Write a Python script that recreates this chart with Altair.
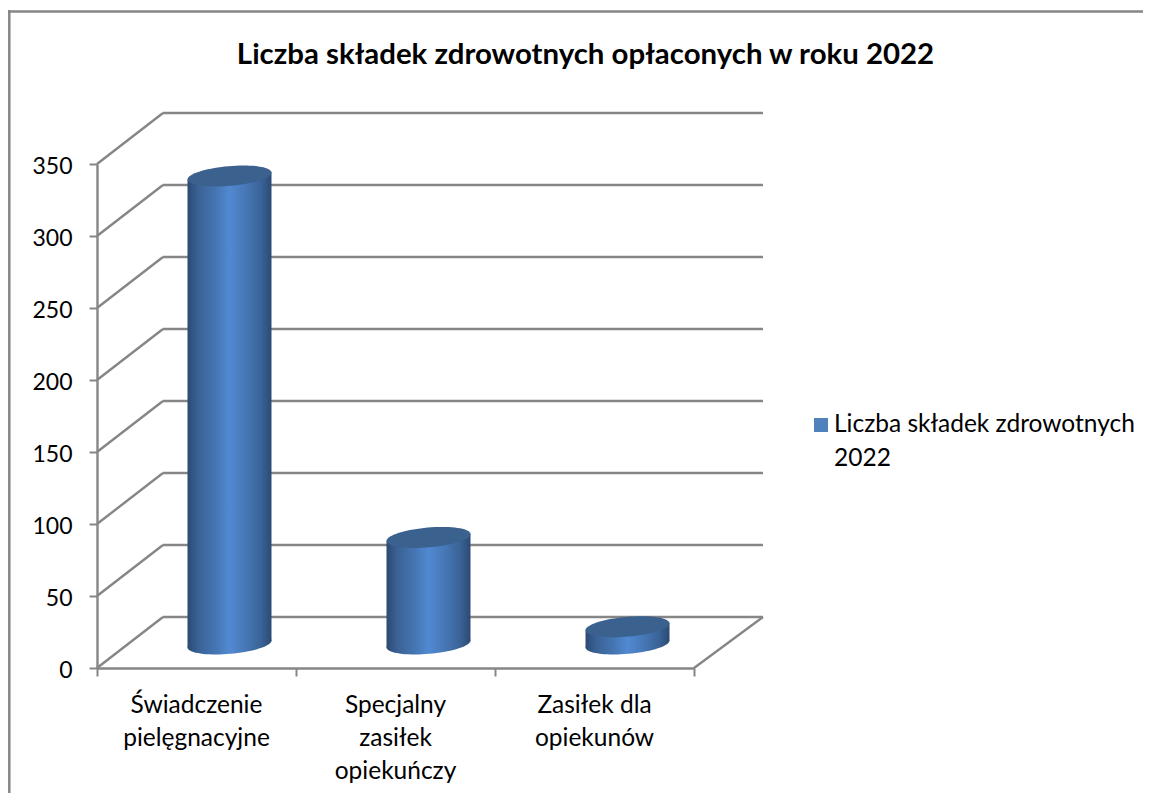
import numpy as np
import altair as alt

# ---- data
categories = ["Świadczenie pielęgnacyjne", "Specjalny zasiłek opiekuńczy", "Zasiłek dla opiekunów"]
category_lines = [["Świadczenie", "pielęgnacyjne"], ["Specjalny", "zasiłek", "opiekuńczy"], ["Zasiłek dla", "opiekunów"]]
values = [325, 74, 12]
y_ticks = [0, 50, 100, 150, 200, 250, 300, 350]
x_edges = [0, 1, 2, 3]
series_lines = ["Liczba składek zdrowotnych", "2022"]
title_text = "Liczba składek zdrowotnych opłaconych w roku 2022"

GRAY = "#868686"
FONT = "Lato"
LINE_W = 2.4
HALF_W = 0.211   # half a cylinder, in category units
TILT = 2.4       # rise of the ellipse ends, in value units

xs = alt.Scale(domain=[0, 3], nice=False, zero=False)
ys = alt.Scale(domain=[0, 350], nice=False)
x_axis = alt.Axis(values=x_edges, labels=False, grid=False, tickSize=8, tickWidth=2, tickColor=GRAY,
                  domainColor=GRAY, domainWidth=LINE_W, title=None)
y_axis = alt.Axis(values=y_ticks, grid=False, tickSize=8, tickWidth=2, tickColor=GRAY,
                  domainColor=GRAY, domainWidth=LINE_W, labelFont=FONT, labelFontSize=23, labelColor="#000000",
                  labelPadding=17, labelOffset=2, title=None)
X = lambda f: alt.X(f, type="quantitative", scale=xs, axis=x_axis)
Y = lambda f: alt.Y(f, type="quantitative", scale=ys, axis=y_axis)

side_grad = alt.Gradient(gradient="linear", x1=0, x2=1, y1=0, y2=0, stops=[
    alt.GradientStop(color="#2b4a72", offset=0),
    alt.GradientStop(color="#3a6296", offset=0.13),
    alt.GradientStop(color="#4474b0", offset=0.32),
    alt.GradientStop(color="#5189d2", offset=0.5),
    alt.GradientStop(color="#4677b4", offset=0.7),
    alt.GradientStop(color="#3a6296", offset=0.88),
    alt.GradientStop(color="#2b4a72", offset=1),
])

t = np.linspace(0, 2 * np.pi, 73)[:-1]
phi = np.deg2rad(-5.0)
ex, ey = np.cos(t), 0.235 * np.sin(t)
px, py = ex * np.cos(phi) - ey * np.sin(phi), ex * np.sin(phi) + ey * np.cos(phi)
px = px / np.abs(px).max()
ellipse = "M" + "L".join(f"{a:.4f},{b:.4f}" for a, b in zip(px, py)) + "Z"
ELLIPSE_SIZE = 84 ** 2
DX, DY = 33, -24

centers = [{"cat": c, "x": i + 0.5, "v": v, "lines": category_lines[i], "zero": 0}
           for i, (c, v) in enumerate(zip(categories, values))]
body = []
for i, (c, v) in enumerate(zip(categories, values)):
    body.append({"cat": c, "x": i + 0.5 - HALF_W, "top": v - TILT, "bot": -TILT})
    body.append({"cat": c, "x": i + 0.5 + HALF_W, "top": v + TILT, "bot": TILT})

ticks = [{"y": v, "x0": 0, "x1": 3} for v in y_ticks]

grid_back = alt.Chart(alt.Data(values=ticks)).mark_rule(
    color=GRAY, strokeWidth=LINE_W, xOffset=66, x2Offset=69, yOffset=-51, y2Offset=-51
).encode(x=X("x0"), x2="x1", y=Y("y"))

diag_left = alt.Chart(alt.Data(values=ticks)).mark_rule(
    color=GRAY, strokeWidth=LINE_W, x2Offset=66, y2Offset=-51
).encode(x=X("x0"), x2="x0", y=Y("y"), y2="y")

diag_right = alt.Chart(alt.Data(values=[ticks[0]])).mark_rule(
    color=GRAY, strokeWidth=LINE_W, x2Offset=69, y2Offset=-51
).encode(x=X("x1"), x2="x1", y=Y("y"), y2="y")

frame_left = alt.Chart(alt.Data(values=ticks[:1])).mark_rule(color=GRAY, strokeWidth=2.5).encode(
    x=alt.value(-87.7), y=alt.value(-154), y2=alt.value(640))
frame_top = alt.Chart(alt.Data(values=ticks[:1])).mark_rule(color=GRAY, strokeWidth=2.5).encode(
    x=alt.value(-89), x2=alt.value(1062), y=alt.value(-152.5))

bottoms = alt.Chart(alt.Data(values=centers)).mark_point(
    shape=ellipse, size=ELLIPSE_SIZE, filled=True, fill=side_grad, fillOpacity=1, strokeWidth=0,
    xOffset=DX, yOffset=DY
).encode(x=X("x"), y=Y("zero"))

bodies = alt.Chart(alt.Data(values=body)).mark_area(
    fill=side_grad, fillOpacity=1, xOffset=DX, yOffset=DY, y2Offset=DY
).encode(x=X("x"), y=Y("top"), y2="bot", detail="cat:N")

tops = alt.Chart(alt.Data(values=centers)).mark_point(
    shape=ellipse, size=ELLIPSE_SIZE, filled=True, fill="#3b618f", fillOpacity=1, strokeWidth=0,
    xOffset=DX, yOffset=DY
).encode(x=X("x"), y=Y("v"))

cat_labels = alt.Chart(alt.Data(values=centers)).mark_text(
    font=FONT, fontSize=24.5, color="#000000", baseline="middle", align="center", lineHeight=33
).encode(x=X("x"), y=alt.value(541.5), text="lines:N")

legend_swatch = alt.Chart(alt.Data(values=[{"s": series_lines}])).mark_square(
    size=196, color="#4f81bd", opacity=1, strokeWidth=0
).encode(x=alt.value(724), y=alt.value(261))

legend_text = alt.Chart(alt.Data(values=[{"s": series_lines}])).mark_text(
    font=FONT, fontSize=24.5, color="#000000", align="left", baseline="middle", lineHeight=34
).encode(x=alt.value(737), y=alt.value(261), text="s:N")

chart = alt.layer(
    frame_left, frame_top, grid_back, diag_left, diag_right,
    bottoms, bodies, tops, cat_labels, legend_swatch, legend_text,
).properties(
    width=597, height=504,
    autosize=alt.AutoSizeParams(type="none"),
    padding={"left": 89, "top": 156, "right": 449, "bottom": 125},
    title=alt.TitleParams(title_text, font=FONT, fontWeight="bold", fontSize=29.4, color="#000000",
                          anchor="middle", dx=190, offset=-62),
).configure_view(stroke=None)

chart.save("out.html", embed_options={"renderer": "svg", "actions": False})
